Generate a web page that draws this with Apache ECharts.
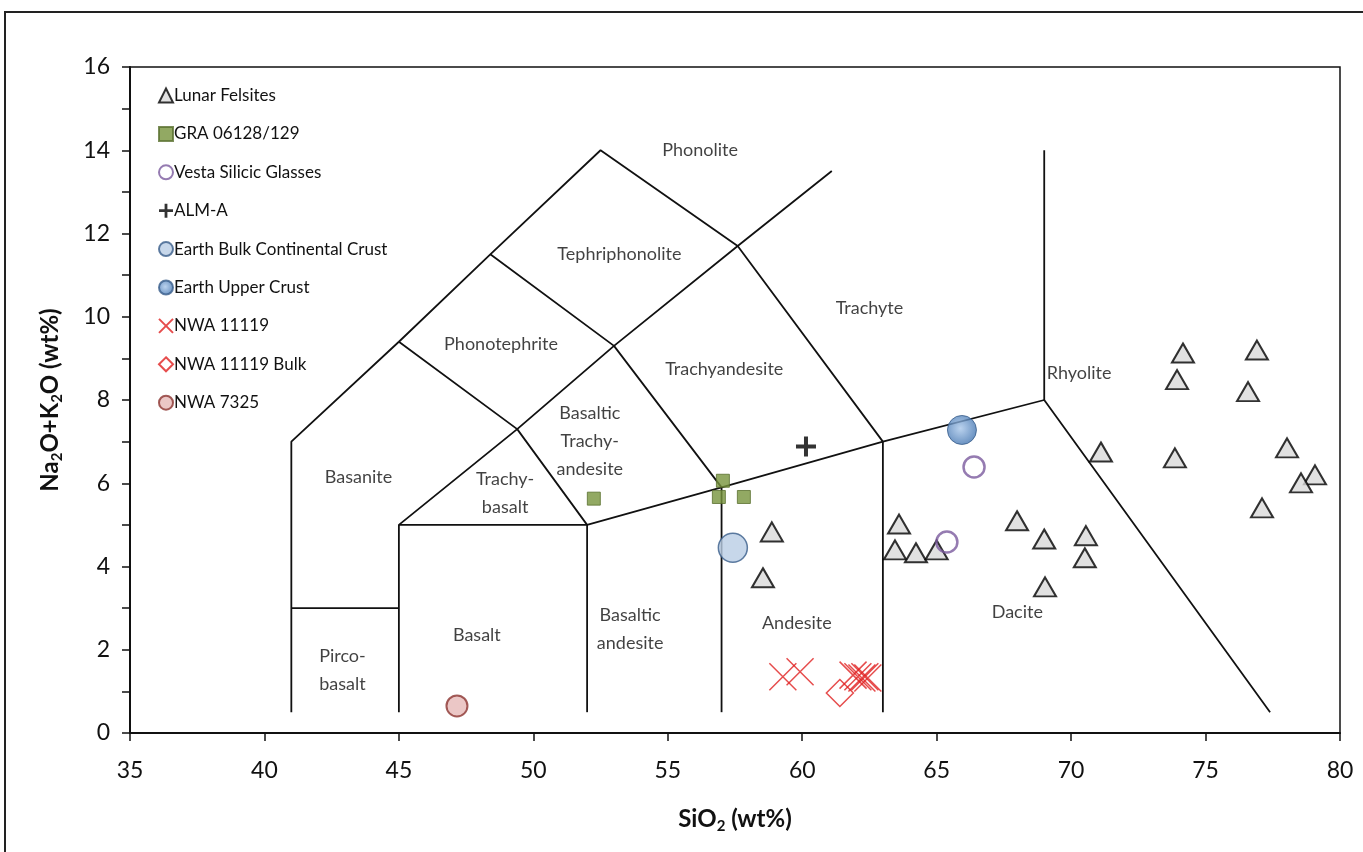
<!DOCTYPE html>
<html lang="en">
<head>
    <meta charset="UTF-8">
    <title>TAS diagram</title>
    <script src="https://cdn.jsdelivr.net/npm/echarts@6/dist/echarts.min.js"></script>
    <style>
        html, body { margin: 0; padding: 0; background: #fff; }
        #main { width: 1363px; height: 852px; }
    </style>
</head>
<body>
<div id="main"></div>

<script type="text/javascript">
    // TAS field boundaries (SiO2, Na2O+K2O)
    var boundaries = [
        [[41, 0.5], [41, 7], [45, 9.4], [48.4, 11.5], [52.5, 14], [57.6, 11.7], [63, 7], [63, 0.5]],
        [[41, 3], [45, 3]],
        [[45, 0.5], [45, 5], [49.4, 7.3], [53, 9.3], [57.6, 11.7], [61.1, 13.5]],
        [[45, 9.4], [49.4, 7.3], [52, 5]],
        [[48.4, 11.5], [53, 9.3], [57, 5.9]],
        [[45, 5], [52, 5], [57, 5.9], [63, 7], [69, 8], [77.4, 0.5]],
        [[52, 0.5], [52, 5]],
        [[57, 0.5], [57, 5.9]],
        [[69, 8], [69, 14]]
    ];

    var fieldNames = [
        [56.2, 14.0, 'Phonolite'],
        [53.2, 11.5, 'Tephriphonolite'],
        [48.8, 9.35, 'Phonotephrite'],
        [62.5, 10.2, 'Trachyte'],
        [57.1, 8.75, 'Trachyandesite'],
        [52.1, 7.0, 'Basaltic\nTrachy-\nandesite'],
        [43.5, 6.15, 'Basanite'],
        [48.95, 5.75, 'Trachy-\nbasalt'],
        [70.3, 8.65, 'Rhyolite'],
        [68.0, 2.9, 'Dacite'],
        [59.8, 2.65, 'Andesite'],
        [53.6, 2.5, 'Basaltic\nandesite'],
        [47.9, 2.35, 'Basalt'],
        [42.9, 1.5, 'Pirco-\nbasalt']
    ];

    var lunarFelsites = [
        [58.87, 4.83], [58.54, 3.73], [63.6, 5.02], [63.45, 4.4], [64.23, 4.33],
        [65.0, 4.4], [67.99, 5.1], [69.0, 4.66], [69.03, 3.51], [70.55, 4.74],
        [70.51, 4.21], [71.11, 6.75], [74.16, 9.13], [73.94, 8.49], [76.91, 9.2],
        [76.58, 8.2], [78.03, 6.85], [79.07, 6.2], [78.55, 6.01], [77.1, 5.41],
        [73.86, 6.61]
    ];
    var gra = [[52.25, 5.63], [57.05, 6.06], [56.9, 5.67], [57.83, 5.67]];
    var vesta = [[66.39, 6.39], [65.38, 4.59]];
    var almA = [[60.14, 6.88]];
    var earthBulk = [[57.42, 4.45]];
    var earthUpper = [[65.94, 7.28]];
    var nwa11119 = [[59.28, 1.35], [59.92, 1.47], [61.89, 1.39], [62.07, 1.35], [62.22, 1.32], [62.33, 1.35], [62.44, 1.32]];
    var nwa11119Bulk = [[61.4, 0.96]];
    var nwa7325 = [[47.16, 0.65]];

    var FONT = 'Lato';
    var myChart = echarts.init(document.getElementById('main'));

    var series = [];
    boundaries.forEach(function (b) {
        series.push({
            type: 'line',
            data: b,
            symbol: 'none',
            silent: true,
            z: 1,
            lineStyle: { color: '#111', width: 1.8 }
        });
    });
    series.push({
        type: 'scatter',
        data: fieldNames,
        symbolSize: 0,
        silent: true,
        z: 2,
        label: {
            show: true,
            position: 'inside',
            formatter: function (p) { return p.data[2]; },
            fontFamily: FONT,
            fontSize: 18,
            color: '#111',
            align: 'center',
            lineHeight: 28
        }
    });

    var crossPath = 'path://M4,0H6V4H10V6H6V10H4V6H0V4H4Z';
    var xPath = 'path://M0,0L10,10M10,0L0,10';

    series.push(
        {
            name: 'Lunar Felsites', type: 'scatter', data: lunarFelsites, z: 5,
            symbol: 'triangle', symbolSize: [22, 19],
            itemStyle: { color: '#d9d9d9', borderColor: '#000', borderWidth: 2 }
        },
        {
            name: 'GRA 06128/129', type: 'scatter', data: gra, z: 5,
            symbol: 'rect', symbolSize: 13,
            itemStyle: { color: '#77933c', borderColor: '#5a7030', borderWidth: 1 }
        },
        {
            name: 'Vesta Silicic Glasses', type: 'scatter', data: vesta, z: 5,
            symbol: 'circle', symbolSize: 21,
            itemStyle: { color: 'rgba(255,255,255,0)', borderColor: '#7a5a9e', borderWidth: 2.5 }
        },
        {
            name: 'ALM-A', type: 'scatter', data: almA, z: 5,
            symbol: crossPath, symbolSize: 20,
            itemStyle: { color: '#000' }
        },
        {
            name: 'Earth Bulk Continental Crust', type: 'scatter', data: earthBulk, z: 5,
            symbol: 'circle', symbolSize: 29,
            itemStyle: { color: '#b9cde5', borderColor: '#385d8a', borderWidth: 1.5 }
        },
        {
            name: 'Earth Upper Crust', type: 'scatter', data: earthUpper, z: 5,
            symbol: 'circle', symbolSize: 29,
            itemStyle: {
                color: new echarts.graphic.RadialGradient(0.45, 0.45, 0.6, [
                    { offset: 0, color: '#a9c7ea' },
                    { offset: 1, color: '#3b6fad' }
                ]),
                borderColor: '#385d8a', borderWidth: 1
            }
        },
        {
            name: 'NWA 11119', type: 'scatter', data: nwa11119, z: 6,
            symbol: xPath, symbolSize: 27,
            itemStyle: { color: 'rgba(0,0,0,0)', borderColor: '#e02020', borderWidth: 1.5 }
        },
        {
            name: 'NWA 11119 Bulk', type: 'scatter', data: nwa11119Bulk, z: 6,
            symbol: 'diamond', symbolSize: 27,
            itemStyle: { color: 'rgba(255,255,255,0)', borderColor: '#e02020', borderWidth: 1.5 }
        },
        {
            name: 'NWA 7325', type: 'scatter', data: nwa7325, z: 5,
            symbol: 'circle', symbolSize: 21,
            itemStyle: { color: '#e6b9b8', borderColor: '#8b3330', borderWidth: 2 }
        }
    );

    var option = {
        backgroundColor: '#fff',
        animation: false,
        grid: {
            left: 130, right: 23, top: 67, bottom: 119,
            show: true, borderColor: '#111', borderWidth: 1.5
        },
        legend: {
            data: ['Lunar Felsites', 'GRA 06128/129', 'Vesta Silicic Glasses', 'ALM-A',
                'Earth Bulk Continental Crust', 'Earth Upper Crust', 'NWA 11119',
                'NWA 11119 Bulk', 'NWA 7325'],
            orient: 'vertical',
            left: 153,
            top: 82,
            itemWidth: 14,
            itemHeight: 14,
            itemGap: 21.4,
            textStyle: { fontFamily: FONT, fontSize: 17, color: '#111', padding: [0, 0, 0, -4] }
        },
        xAxis: {
            type: 'value',
            min: 35, max: 80, interval: 5,
            name: '{a|SiO}{s|2}{a| (wt%)}',
            nameLocation: 'middle',
            nameGap: 72,
            nameTextStyle: {
                rich: {
                    a: { fontFamily: FONT, fontSize: 24, fontWeight: 'bold', color: '#111' },
                    s: { fontFamily: FONT, fontSize: 15, fontWeight: 'bold', color: '#111', padding: [14, 0, 0, 0] }
                }
            },
            axisLine: { show: true, lineStyle: { color: '#111', width: 2 } },
            axisTick: { show: true, inside: false, length: 8, lineStyle: { color: '#111', width: 1.5 } },
            axisLabel: { fontFamily: FONT, fontSize: 23, color: '#111', margin: 26 },
            splitLine: { show: false }
        },
        yAxis: {
            type: 'value',
            min: 0, max: 16, interval: 2,
            name: '{a|Na}{s|2}{a|O+K}{s|2}{a|O (wt%)}',
            nameLocation: 'middle',
            nameRotate: 90,
            nameGap: 65,
            nameTextStyle: {
                rich: {
                    a: { fontFamily: FONT, fontSize: 24, fontWeight: 'bold', color: '#111' },
                    s: { fontFamily: FONT, fontSize: 15, fontWeight: 'bold', color: '#111', padding: [14, 0, 0, 0] }
                }
            },
            axisLine: { show: true, lineStyle: { color: '#111', width: 2 } },
            axisTick: { show: true, inside: false, length: 8, lineStyle: { color: '#111', width: 1.5 } },
            minorTick: { show: true, splitNumber: 2, length: 8, lineStyle: { color: '#111', width: 1.5 } },
            axisLabel: { fontFamily: FONT, fontSize: 23, color: '#111', margin: 20 },
            splitLine: { show: false }
        },
        graphic: [
            {
                type: 'polyline',
                shape: { points: [[5, 852], [5, 12], [1363, 12]] },
                style: { stroke: '#222', lineWidth: 2, fill: null },
                silent: true
            }
        ],
        series: series
    };
    myChart.setOption(option);
</script>

</body>
</html>
